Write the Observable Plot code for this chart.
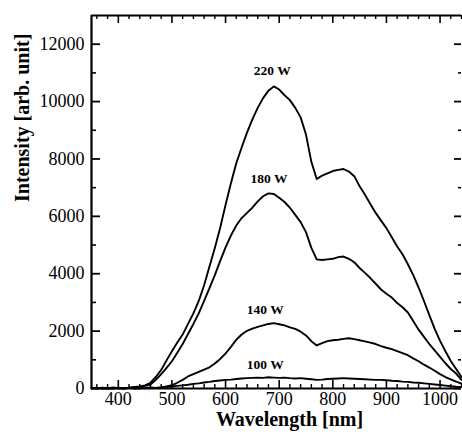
<!DOCTYPE html>
<html>
<head>
<meta charset="utf-8">
<script src="https://cdn.jsdelivr.net/npm/d3@7"></script>
<script src="https://cdn.jsdelivr.net/npm/@observablehq/plot@0.6"></script>
<style>
  html, body { margin: 0; padding: 0; background: #fff; }
  #chart { width: 462px; height: 436px; overflow: hidden; }
  #chart svg, #chart svg text { font-family: "Liberation Serif", "DejaVu Serif", serif !important; }
</style>
</head>
<body>
<div id="chart"></div>
<script>
const wavelengths = [350,360,370,380,390,400,410,420,430,440,450,460,470,480,490,500,510,520,530,540,550,560,570,580,590,600,610,620,630,640,650,660,670,680,690,700,710,720,730,740,750,760,770,780,790,800,810,820,830,840,850,860,870,880,890,900,910,920,930,940,950,960,970,980,990,1000,1010,1020,1030,1040];

const series220 = [30,10,20,0,40,10,20,30,50,70,110,200,400,650,980,1300,1600,1880,2250,2620,3050,3600,4250,4900,5600,6400,7150,7850,8400,8920,9380,9780,10120,10380,10530,10420,10220,10050,9780,9450,8850,7900,7300,7420,7500,7580,7620,7650,7560,7400,7050,6750,6430,6120,5850,5590,5270,4950,4680,4330,3950,3520,3050,2560,2080,1660,1300,960,680,400];

const series180 = [10,30,0,20,10,30,0,20,40,60,90,140,300,500,720,950,1250,1550,1900,2250,2620,3050,3500,3950,4450,4920,5330,5680,5940,6120,6300,6520,6700,6800,6780,6650,6500,6300,6050,5800,5450,4900,4500,4480,4500,4520,4580,4600,4520,4400,4200,4030,3850,3650,3450,3300,3170,2980,2830,2650,2350,2050,1800,1550,1330,1100,880,680,520,300];

const series140 = [20,0,30,10,0,20,10,30,0,20,10,30,20,40,70,120,200,300,420,500,580,660,740,870,1030,1220,1450,1700,1880,2010,2090,2150,2200,2250,2280,2240,2200,2130,2080,1980,1850,1650,1500,1580,1650,1680,1700,1730,1750,1720,1680,1640,1600,1550,1480,1420,1370,1300,1230,1160,1050,950,830,730,620,500,400,320,240,170];

const series100 = [0,20,10,0,20,10,0,20,10,0,20,30,20,40,60,70,90,110,130,160,180,210,230,260,280,300,310,330,350,360,370,380,370,390,380,370,380,360,350,360,340,320,300,310,330,340,350,360,350,340,330,320,310,300,300,290,270,260,240,230,210,200,180,160,140,120,100,80,60,50];

const seriesNames = ["220 W", "180 W", "140 W", "100 W"];
const seriesValues = [series220, series180, series140, series100];
const labelX = [687, 681, 674, 674];
const labelY = [11060, 7320, 2750, 835];

const xTickLabels = [400,500,600,700,800,900,1000];
const xMinorTicks = [360,380,420,440,460,480,520,540,560,580,620,640,660,680,720,740,760,780,820,840,860,880,920,940,960,980,1020,1040];
const yTickLabels = [0,2000,4000,6000,8000,10000,12000];
const yMinorTicks = [1000,3000,5000,7000,9000,11000];

const rows = [];
seriesNames.forEach((name, s) => {
  wavelengths.forEach((w, i) => rows.push({series: name, w, v: seriesValues[s][i]}));
});
const labels = seriesNames.map((name, i) => ({name, x: labelX[i], y: labelY[i]}));

const font = '"Liberation Serif", "DejaVu Serif", serif';

const chart = Plot.plot({
  width: 462,
  height: 436,
  marginLeft: 91,
  marginRight: 1,
  marginTop: 15,
  marginBottom: 48,
  style: {fontFamily: font, background: "white", color: "black"},
  x: {domain: [350, 1040]},
  y: {domain: [0, 13000]},
  marks: [
    Plot.axisX({ticks: xTickLabels, tickSize: 0, tickPadding: 4, fontSize: 18, label: null, tickFormat: d => String(d)}),
    Plot.axisY({ticks: yTickLabels, tickSize: 0, tickPadding: 7, fontSize: 18, label: null, tickFormat: d => String(d)}),
    Plot.tickX(xTickLabels, {x: d => d, insetTop: 365, stroke: "black", strokeWidth: 1.6}),
    Plot.tickX(xMinorTicks, {x: d => d, insetTop: 369, stroke: "black", strokeWidth: 1.4}),
    Plot.tickX(xTickLabels, {x: d => d, insetBottom: 365, stroke: "black", strokeWidth: 1.6}),
    Plot.tickX(xMinorTicks, {x: d => d, insetBottom: 369, stroke: "black", strokeWidth: 1.4}),
    Plot.tickY(yTickLabels, {y: d => d, insetRight: 361, stroke: "black", strokeWidth: 1.8}),
    Plot.tickY(yMinorTicks, {y: d => d, insetRight: 365, stroke: "black", strokeWidth: 1.6}),
    Plot.tickY(yTickLabels, {y: d => d, insetLeft: 363, stroke: "black", strokeWidth: 1.8}),
    Plot.tickY(yMinorTicks, {y: d => d, insetLeft: 367, stroke: "black", strokeWidth: 1.6}),
    Plot.ruleX([350], {stroke: "black", strokeWidth: 2.2}),
    Plot.ruleY([13000], {stroke: "black", strokeWidth: 2.2}),
    Plot.ruleY([0], {stroke: "black", strokeWidth: 2.2}),
    Plot.line(rows, {x: "w", y: "v", z: "series", stroke: "black", strokeWidth: 1.9}),
    Plot.text(labels, {x: "x", y: "y", text: "name", fontSize: 13.5, fontWeight: "bold", fontFamily: font, fill: "black"}),
    Plot.text(["Wavelength [nm]"], {frameAnchor: "bottom", dx: 13, dy: 37.5, fontSize: 20, fontWeight: "bold", fontFamily: font, fill: "black"}),
    Plot.text(["Intensity [arb. unit]"], {frameAnchor: "left", dx: -69, rotate: -90, fontSize: 20, fontWeight: "bold", fontFamily: font, fill: "black"})
  ]
});
document.getElementById("chart").appendChild(chart);
</script>
</body>
</html>
